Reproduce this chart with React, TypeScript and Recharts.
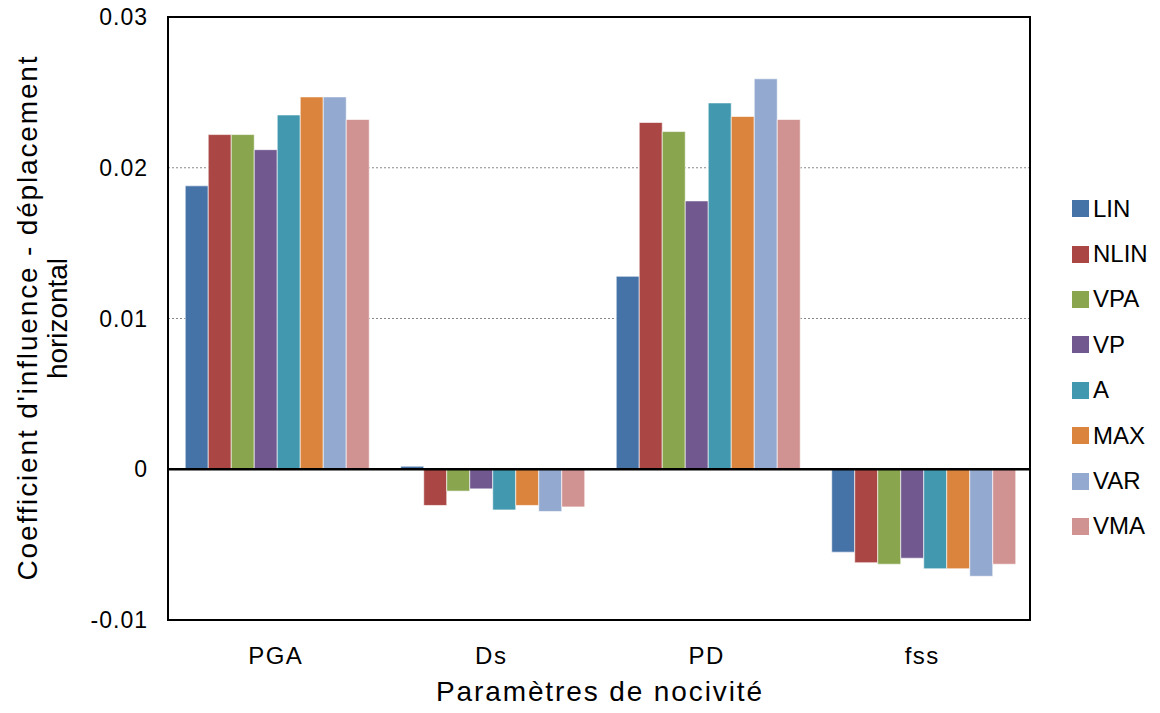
import React from 'react';
import { BarChart, Bar, XAxis, YAxis, CartesianGrid, Legend, ReferenceLine, ReferenceArea } from 'recharts';

const categories = ['PGA', 'Ds', 'PD', 'fss'];
const seriesNames = ['LIN', 'NLIN', 'VPA', 'VP', 'A', 'MAX', 'VAR', 'VMA'];
const seriesColors = ['#4572A7', '#AA4643', '#89A54E', '#71588F', '#4198AF', '#DB843D', '#93A9CF', '#D19392'];
const LIN = [0.0188, 0.0002, 0.0128, -0.0055];
const NLIN = [0.0222, -0.0024, 0.0230, -0.0062];
const VPA = [0.0222, -0.00145, 0.0224, -0.0063];
const VP = [0.0212, -0.0013, 0.0178, -0.0059];
const A = [0.0235, -0.0027, 0.0243, -0.0066];
const MAX = [0.0247, -0.0024, 0.0234, -0.0066];
const VAR = [0.0247, -0.0028, 0.0259, -0.0071];
const VMA = [0.0232, -0.0025, 0.0232, -0.0063];
const seriesValues = [LIN, NLIN, VPA, VP, A, MAX, VAR, VMA];
const yTicks = [-0.01, 0, 0.01, 0.02, 0.03];
const yTickLabels = ['-0.01', '0', '0.01', '0.02', '0.03'];

const data = categories.map((c, i) => {
  const row: any = { name: c };
  seriesNames.forEach((s, j) => { row[s] = seriesValues[j][i]; });
  return row;
});

const FONT = '"Liberation Sans", Arial, sans-serif';

const YLabel = (props: any) => {
  const vb = props.viewBox || {};
  const cy = vb.y + vb.height / 2;
  return (
    <g>
      <text x={27} y={cy} transform={`rotate(-90, 27, ${cy})`} textAnchor="middle" dominantBaseline="central"
        fontSize={28} fontFamily={FONT} fill="#000" textLength={524} lengthAdjust="spacing">
        Coefficient d'influence - déplacement
      </text>
      <text x={57} y={cy} transform={`rotate(-90, 57, ${cy})`} textAnchor="middle" dominantBaseline="central"
        fontSize={28} fontFamily={FONT} fill="#000" textLength={121} lengthAdjust="spacing">
        horizontal
      </text>
    </g>
  );
};

const XLabel = (props: any) => {
  const vb = props.viewBox || {};
  const cx = vb.x + vb.width / 2;
  return (
    <text x={cx} y={691} textAnchor="middle" dominantBaseline="central" fontSize={28} fontFamily={FONT} fill="#000"
      textLength={326} lengthAdjust="spacing">
      Paramètres de nocivité
    </text>
  );
};

const LegendContent = () => (
  <div style={{ fontFamily: FONT, fontSize: 24 }}>
    {seriesNames.map((s, i) => (
      <div key={s} style={{ display: 'flex', alignItems: 'center', height: 45.4 }}>
        <div style={{ width: 17, height: 17, background: seriesColors[i], marginRight: 4 }} />
        <span>{s}</span>
      </div>
    ))}
  </div>
);

export default function App() {
  return (
    <div style={{ position: 'absolute', left: 0, top: 0, background: '#fff' }}>
      <BarChart width={1160} height={713} data={data} margin={{ top: 17, right: 42, bottom: 33, left: 0 }} barGap={0} barCategoryGap="8%">
        <CartesianGrid vertical={false} stroke="#888" strokeDasharray="2 2" />
        <XAxis dataKey="name" tickLine={false} axisLine={false} height={60} tickMargin={21}
          tick={{ fontSize: 24, fontFamily: FONT, fill: '#000', letterSpacing: 1.5 }} label={{ content: XLabel }} />
        <YAxis width={168} domain={[-0.01, 0.03]} ticks={yTicks} tickLine={false} axisLine={false} tickMargin={14}
          interval={0} allowDataOverflow
          tickFormatter={(v: number) => yTickLabels[yTicks.findIndex((t) => Math.abs(t - v) < 1e-9)]}
          tick={{ fontSize: 23, fontFamily: FONT, fill: '#000', letterSpacing: 1 }} label={{ content: YLabel }} />
        <Legend layout="vertical" align="right" verticalAlign="middle" content={LegendContent}
          wrapperStyle={{ left: 1072, top: 186, width: 88, right: 'auto' }} />
        {seriesNames.map((s, i) => (
          <Bar key={s} dataKey={s} fill={seriesColors[i]} stroke="#ffffff" strokeOpacity={0.6} strokeWidth={1} isAnimationActive={false} />
        ))}
        <ReferenceLine y={0} stroke="#000" strokeWidth={2.5} />
        <ReferenceArea y1={-0.01} y2={0.03} fill="none" stroke="#000" strokeWidth={2} />
      </BarChart>
    </div>
  );
}
